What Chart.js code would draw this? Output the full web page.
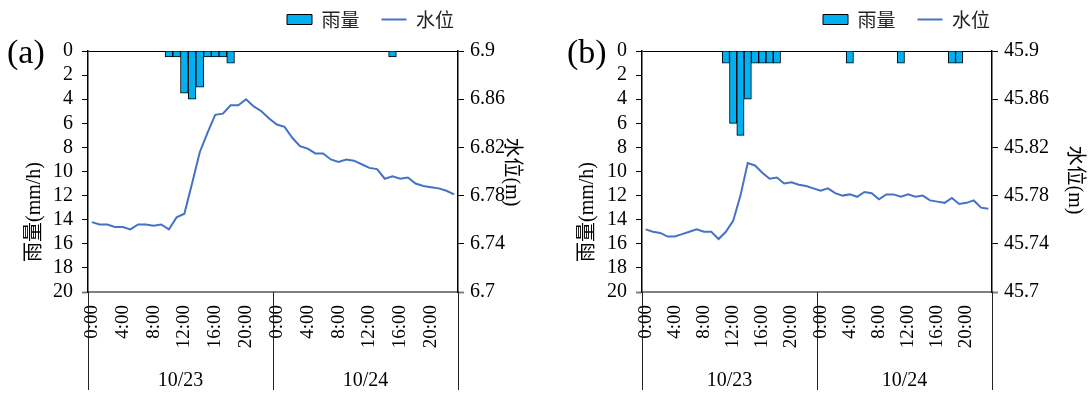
<!DOCTYPE html>
<html>
<head>
<meta charset="utf-8">
<script src="https://cdn.jsdelivr.net/npm/chart.js@4.4.1/dist/chart.umd.min.js"></script>
<style>
  body { margin: 0; background: #fff; }
  #wrap { display: flex; width: 1088px; height: 394px; }
  canvas { display: block; }
</style>
</head>
<body>
<div id="wrap">
  <canvas id="chartA" width="544" height="394"></canvas>
  <canvas id="chartB" width="544" height="394"></canvas>
</div>
<script>
const days = ['10/23', '10/24'];
const hours = ['0:00', '1:00', '2:00', '3:00', '4:00', '5:00', '6:00', '7:00', '8:00', '9:00', '10:00', '11:00',
  '12:00', '13:00', '14:00', '15:00', '16:00', '17:00', '18:00', '19:00', '20:00', '21:00', '22:00', '23:00'];
const categories = days.flatMap(d => hours.map(h => d + ' ' + h));

const rainTicks = [0, 2, 4, 6, 8, 10, 12, 14, 16, 18, 20];
const levelTicksA = [6.7, 6.74, 6.78, 6.82, 6.86, 6.9];
const levelTicksB = [45.7, 45.74, 45.78, 45.82, 45.86, 45.9];

// rain (mm/h), hourly
const rainA = [0, 0, 0, 0, 0, 0, 0, 0, 0, 0,
  0.5, 0.5, 3.5, 4, 3, 0.5, 0.5, 0.5, 1, 0,
  0, 0, 0, 0, 0, 0, 0, 0, 0, 0,
  0, 0, 0, 0, 0, 0, 0, 0, 0, 0.5,
  0, 0, 0, 0, 0, 0, 0, 0];
const rainB = [0, 0, 0, 0, 0, 0, 0, 0, 0, 0,
  0, 1, 6, 7, 4, 1, 1, 1, 1, 0,
  0, 0, 0, 0, 0, 0, 0, 0, 1, 0,
  0, 0, 0, 0, 0, 1, 0, 0, 0, 0,
  0, 0, 1, 1, 0, 0, 0, 0];

// water level (m), hourly
const levelA = [6.758, 6.756, 6.756, 6.754, 6.754, 6.752, 6.756, 6.756, 6.755, 6.756,
  6.752, 6.762, 6.765, 6.790, 6.816, 6.832, 6.847, 6.848, 6.855, 6.855,
  6.860, 6.854, 6.850, 6.844, 6.839, 6.837, 6.828, 6.821, 6.819, 6.815,
  6.815, 6.810, 6.808, 6.810, 6.809, 6.806, 6.803, 6.802, 6.794, 6.796,
  6.794, 6.795, 6.790, 6.788, 6.787, 6.786, 6.784, 6.781];
const levelB = [45.752, 45.750, 45.749, 45.746, 45.746, 45.748, 45.750, 45.752, 45.750, 45.750,
  45.744, 45.750, 45.759, 45.780, 45.807, 45.805, 45.799, 45.794, 45.795, 45.790,
  45.791, 45.789, 45.788, 45.786, 45.784, 45.786, 45.782, 45.780, 45.781, 45.779,
  45.783, 45.782, 45.777, 45.781, 45.781, 45.779, 45.781, 45.779, 45.780, 45.776,
  45.775, 45.774, 45.778, 45.773, 45.774, 45.776, 45.770, 45.769];

Chart.defaults.font.family = 'Liberation Serif';
Chart.defaults.color = '#000';

const serif = 'Liberation Serif, Noto Sans CJK SC';
const legendPad = 22;

function makeChart(id, o) {
  const decor = {
    id: 'decor',
    afterLayout(chart) {
      // put the legend where the original has it
      const lg = chart.legend;
      lg.left = o.legendX - legendPad;
      lg.top -= 12;
      lg.bottom -= 12;
    },
    afterDraw(chart) {
      const { ctx, chartArea: a, scales: { x } } = chart;
      ctx.save();
      // category group separators
      ctx.strokeStyle = '#222';
      ctx.lineWidth = 1;
      const edges = [-0.5];
      days.forEach((d, i) => edges.push((i + 1) * hours.length - 0.5));
      edges.forEach(v => {
        const px = Math.round(x.getPixelForValue(v)) + 0.5;
        ctx.beginPath();
        ctx.moveTo(px, a.bottom);
        ctx.lineTo(px, a.bottom + 98);
        ctx.stroke();
      });
      ctx.fillStyle = '#000';
      ctx.font = '20px ' + serif;
      ctx.textAlign = 'center';
      ctx.textBaseline = 'middle';
      days.forEach((d, i) => {
        ctx.fillText(d, x.getPixelForValue(i * hours.length + hours.length / 2 - 0.5), a.bottom + 89);
      });
      // panel label
      ctx.font = '34px Liberation Serif';
      ctx.textAlign = 'left';
      ctx.textBaseline = 'alphabetic';
      ctx.fillText(o.label, o.labelX, 63);
      // axis titles
      ctx.font = '20px ' + serif;
      ctx.textAlign = 'center';
      ctx.textBaseline = 'middle';
      ctx.save();
      ctx.translate(o.leftTitleX, 212);
      ctx.rotate(-Math.PI / 2);
      ctx.fillText('雨量(mm/h)', 0, 0);
      ctx.restore();
      ctx.save();
      ctx.translate(o.rightTitleX, o.rightTitleY);
      ctx.rotate(Math.PI / 2);
      ctx.fillText('水位(m)', 0, 0);
      ctx.restore();
      ctx.restore();
    }
  };

  return new Chart(document.getElementById(id), {
    data: {
      labels: categories,
      datasets: [
        {
          type: 'bar',
          label: '雨量',
          data: o.rain,
          yAxisID: 'y',
          backgroundColor: '#00B0F0',
          borderColor: '#000',
          borderWidth: 1,
          barPercentage: 1,
          categoryPercentage: 1,
          pointStyle: 'rect'
        },
        {
          type: 'line',
          label: '水位',
          data: o.level,
          yAxisID: 'y1',
          borderColor: '#4472C4',
          backgroundColor: '#4472C4',
          borderWidth: 2,
          pointRadius: 0,
          tension: 0,
          pointStyle: 'line'
        }
      ]
    },
    options: {
      responsive: false,
      animation: false,
      events: [],
      layout: { padding: 0 },
      plugins: {
        tooltip: { enabled: false },
        legend: {
          position: 'top',
          align: 'start',
          labels: {
            usePointStyle: true,
            pointStyleWidth: 25,
            boxHeight: 10,
            padding: legendPad,
            font: { family: 'Noto Sans CJK SC', size: 19 },
            color: '#222'
          }
        }
      },
      scales: {
        x: {
          offset: true,
          grid: { display: false },
          border: { display: true, color: '#808080', width: 2 },
          ticks: {
            autoSkip: false,
            maxRotation: 90,
            minRotation: 90,
            padding: 5,
            font: { size: 19 },
            callback: (v, i) => (i % 4 === 0 ? hours[i % hours.length] : '')
          },
          afterFit: s => { s.height = 102; }
        },
        y: {
          position: 'left',
          reverse: true,
          min: rainTicks[0],
          max: rainTicks[rainTicks.length - 1],
          afterBuildTicks: s => { s.ticks = rainTicks.map(v => ({ value: v })); },
          grid: {
            color: c => (c.tick && c.tick.value === 0 ? '#000' : 'rgba(0,0,0,0)'),
            tickColor: c => (c.tick && c.tick.value === 20 ? '#808080' : '#000'),
            tickLength: 6,
            tickWidth: c => (c.tick && c.tick.value === 20 ? 2 : 1)
          },
          border: { display: true, color: '#000', width: 1.5 },
          ticks: { autoSkip: false, padding: 9, font: { size: 20 } },
          afterFit: s => { s.width = o.leftW; s.paddingTop = 51; }
        },
        y1: {
          position: 'right',
          min: o.levelTicks[0],
          max: o.levelTicks[o.levelTicks.length - 1],
          afterBuildTicks: s => { s.ticks = o.levelTicks.map(v => ({ value: v })); },
          grid: {
            drawOnChartArea: false,
            tickLength: 6,
            tickColor: c => (c.index === 0 ? '#808080' : '#000'),
            tickWidth: c => (c.index === 0 ? 2 : 1)
          },
          border: { display: true, color: '#000', width: 1.5 },
          ticks: { autoSkip: false, padding: 6, font: { size: 20 }, callback: v => String(v) },
          afterFit: s => { s.width = o.rightW; }
        }
      }
    },
    plugins: [decor]
  });
}

makeChart('chartA', {
  rain: rainA, level: levelA, levelTicks: levelTicksA,
  leftW: 88, rightW: 86, legendX: 287,
  label: '(a)', labelX: 7, leftTitleX: 35, rightTitleX: 511, rightTitleY: 172
});
makeChart('chartB', {
  rain: rainB, level: levelB, levelTicks: levelTicksB,
  leftW: 98, rightW: 96, legendX: 279,
  label: '(b)', labelX: 23, leftTitleX: 44, rightTitleX: 530, rightTitleY: 180
});
</script>
</body>
</html>
